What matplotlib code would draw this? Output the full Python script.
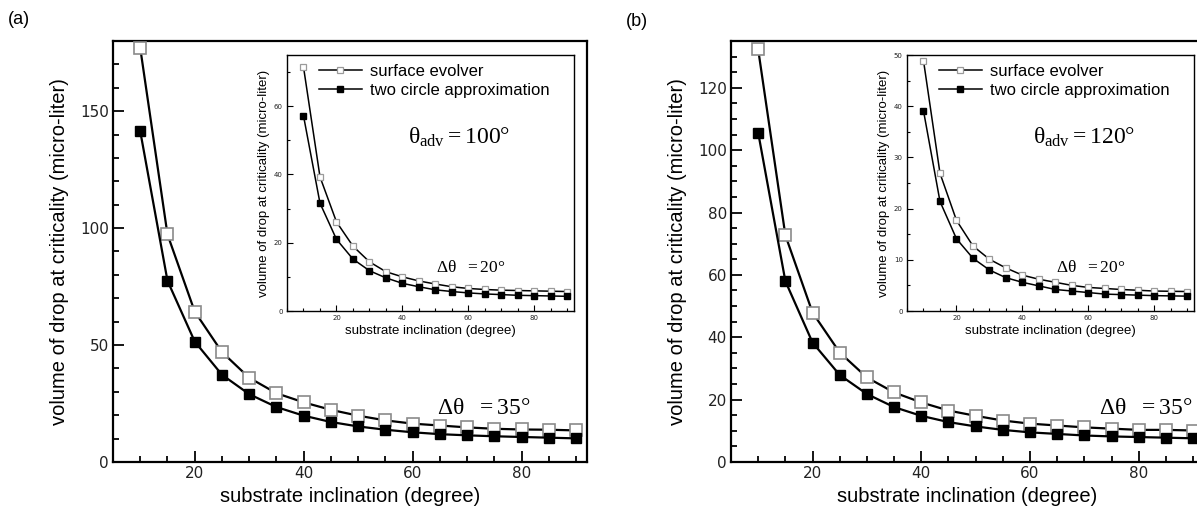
import numpy as np
import matplotlib
matplotlib.use("Agg")
from matplotlib import pyplot as plt
from matplotlib.ticker import MultipleLocator

plt.rcParams['font.family'] = ['Liberation Sans', 'DejaVu Sans']
## upright serif maths, like the original annotations
plt.rcParams['mathtext.fontset'] = 'custom'
plt.rcParams['mathtext.rm'] = 'Liberation Serif'
plt.rcParams['mathtext.it'] = 'Liberation Serif'
plt.rcParams['mathtext.bf'] = 'Liberation Serif:bold'

## inclination angles (degree)
incl = [10, 15, 20, 25, 30, 35, 40, 45, 50, 55, 60, 65, 70, 75, 80, 85, 90]

## (a) theta_adv = 100, main plot: delta theta = 35
a_se = [177, 97.3, 64.3, 47, 36, 29.4, 25.5, 22.3, 19.8, 17.8, 16.4, 15.6, 14.8, 14.2, 13.9, 13.8, 13.5]
a_tc = [141.4, 77.5, 51.5, 37.3, 29, 23.5, 19.8, 17.1, 15.2, 13.8, 12.7, 11.9, 11.4, 11, 10.7, 10.4, 10.1]
## (a) inset: delta theta = 20
a_in_se = [71.5, 39.3, 26.1, 19, 14.4, 11.5, 10, 8.8, 7.9, 7.1, 6.6, 6.3, 6.1, 6.0, 5.9, 5.8, 5.7]
a_in_tc = [57.2, 31.6, 21, 15.2, 11.8, 9.7, 8.1, 7.1, 6.2, 5.7, 5.3, 5.0, 4.8, 4.6, 4.5, 4.4, 4.3]

## (b) theta_adv = 120, main plot: delta theta = 35
b_se = [132.3, 72.7, 47.9, 35.1, 27.1, 22.3, 19.1, 16.5, 14.8, 13.3, 12.3, 11.7, 11.1, 10.7, 10.3, 10.3, 10.1]
b_tc = [105.6, 58, 38.3, 27.9, 21.8, 17.6, 14.8, 12.8, 11.4, 10.3, 9.5, 9.0, 8.5, 8.2, 8.0, 7.8, 7.6]
## (b) inset: delta theta = 20
b_in_se = [48.9, 26.9, 17.7, 12.7, 10.1, 8.4, 7.0, 6.2, 5.6, 5.0, 4.6, 4.4, 4.2, 4.05, 3.9, 3.85, 3.8]
b_in_tc = [39.1, 21.4, 14.1, 10.3, 8.0, 6.5, 5.6, 4.9, 4.2, 3.9, 3.6, 3.3, 3.2, 3.1, 3.0, 2.95, 2.9]

xlabel = "substrate inclination (degree)"
ylabel = "volume of drop at criticality (micro-liter)"

W, H = 1197, 511
fig = plt.figure(figsize=(W / 100, H / 100), dpi=100)


def box(l, t, r, b):
    return [l / W, (H - b) / H, (r - l) / W, (b - t) / H]


def style(ax, lw, tl, tlm, lsize):
    for s in ax.spines.values():
        s.set_linewidth(lw)
    ax.tick_params(which='both', direction='in', top=False, right=False,
                   labelsize=lsize, width=lw * 0.8, pad=3, labelcolor='#222222')
    ax.tick_params(which='major', length=tl)
    ax.tick_params(which='minor', length=tlm)
    for t in ax.get_xticklabels() + ax.get_yticklabels():
        t.set_fontfamily('DejaVu Sans')
    ax.set_xlim(5, 92)
    ax.xaxis.set_major_locator(MultipleLocator(20))
    ax.xaxis.set_minor_locator(MultipleLocator(5))


def main_plot(ax, se, tc, ymax, ymaj, ymin):
    ax.plot(incl, se, color='black', lw=1.6, marker='s', ms=8,
            mfc='white', mec='#8a8a8a', mew=1.2, zorder=3)
    ax.plot(incl, tc, color='black', lw=1.6, marker='s', ms=7.5,
            mfc='black', mec='black', zorder=3)
    ax.set_ylim(0, ymax)
    ax.yaxis.set_major_locator(MultipleLocator(ymaj))
    ax.yaxis.set_minor_locator(MultipleLocator(ymin))
    style(ax, 1.6, 8, 4, 11)
    ax.set_xlabel(xlabel, fontsize=14.5, labelpad=4)
    ax.set_ylabel(ylabel, fontsize=14.5, labelpad=8)


def inset_plot(ax, se, tc, ymax, ymaj, ymin):
    ax.plot(incl, se, color='black', lw=1.1, marker='s', ms=4.5,
            mfc='white', mec='#9a9a9a', mew=0.9, zorder=3, label='surface evolver')
    ax.plot(incl, tc, color='black', lw=1.1, marker='s', ms=4.5,
            mfc='black', mec='black', zorder=3, label='two circle approximation')
    ax.set_ylim(0, ymax)
    ax.yaxis.set_major_locator(MultipleLocator(ymaj))
    ax.yaxis.set_minor_locator(MultipleLocator(ymin))
    style(ax, 1.0, 4, 2, 5)
    ax.set_xlabel(xlabel, fontsize=9.5, labelpad=3)
    ax.set_ylabel(ylabel, fontsize=9.5, labelpad=3)
    ax.legend(loc='upper left', bbox_to_anchor=(0.11, 0.965), frameon=False,
              fontsize=12, handlelength=2.6, handletextpad=0.5,
              borderaxespad=0, borderpad=0, labelspacing=0.25, markerscale=1.0)


## panel (a)
ax_a = fig.add_axes(box(113, 41, 587, 462))
main_plot(ax_a, a_se, a_tc, 180, 50, 10)
ax_a.text(0.684, 0.128, r'$\Delta\theta\ \ = 35°$', transform=ax_a.transAxes,
          fontsize=17, va='center')
ax_ai = fig.add_axes(box(287, 55, 574, 311))
inset_plot(ax_ai, a_in_se, a_in_tc, 75, 20, 10)
ax_ai.text(0.42, 0.68, r'$\theta_{\rm adv} = 100°$', transform=ax_ai.transAxes,
           fontsize=17, va='center')
ax_ai.text(0.52, 0.17, r'$\Delta\theta\ \ = 20°$', transform=ax_ai.transAxes,
           fontsize=12.5, va='center')

## panel (b)
ax_b = fig.add_axes(box(731, 41, 1204, 462))
main_plot(ax_b, b_se, b_tc, 135, 20, 5)
ax_b.text(0.777, 0.128, r'$\Delta\theta\ \ = 35°$', transform=ax_b.transAxes,
          fontsize=17, va='center')
ax_bi = fig.add_axes(box(907, 55, 1194, 311))
inset_plot(ax_bi, b_in_se, b_in_tc, 50, 10, 5)
ax_bi.text(0.44, 0.68, r'$\theta_{\rm adv} = 120°$', transform=ax_bi.transAxes,
           fontsize=17, va='center')
ax_bi.text(0.52, 0.17, r'$\Delta\theta\ \ = 20°$', transform=ax_bi.transAxes,
           fontsize=12.5, va='center')

fig.text(8 / W, 1 - 20 / H, "(a)", fontsize=13, va='center')
fig.text(626 / W, 1 - 22 / H, "(b)", fontsize=13, va='center')

fig.savefig("out.png", dpi=100)
